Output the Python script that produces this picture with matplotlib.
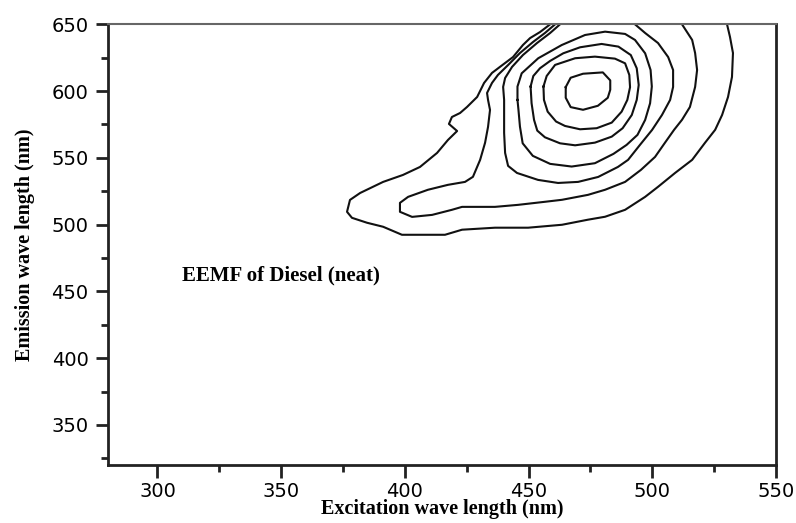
import matplotlib.pyplot as plt
from matplotlib.ticker import MultipleLocator

# Contour lines of the EEM map (excitation nm, emission nm)
# outermost contour, both ends leave through the top edge
contour_a_x = [458.7, 454.6, 450.6, 447.7, 443.7, 438.4, 435.2, 432.0, 429.2, 425.1, 422.3, 419.0,
               417.8, 421.1, 417.4, 413.0, 406.1, 399.2, 391.2, 381.9, 377.8, 376.6, 378.6, 384.7,
               391.2, 398.8, 416.2, 423.1, 436.4, 449.8, 463.5, 474.0, 480.9, 489.0, 497.1, 502.3,
               509.2, 516.1, 521.3, 525.4, 528.2, 530.6, 532.2, 532.6, 531.4, 530.2]
contour_a_y = [650.0, 644.2, 639.7, 634.5, 625.5, 618.1, 613.6, 606.1, 595.6, 588.1, 583.6, 580.6,
               575.4, 570.1, 563.4, 553.7, 543.2, 537.2, 532.0, 523.7, 518.5, 509.6, 505.1, 501.4,
               498.4, 492.4, 492.4, 496.2, 497.7, 497.7, 499.9, 503.7, 505.9, 511.1, 520.8, 528.3,
               538.7, 548.5, 561.3, 571.0, 582.1, 595.6, 610.6, 628.5, 640.5, 650.0]

# second contour with the tongue reaching to ~400 nm
contour_b_x = [460.7, 456.6, 451.8, 446.5, 441.7, 437.6, 435.2, 433.2, 433.6, 434.4, 433.6, 432.4,
               430.4, 427.5, 424.3, 417.4, 409.3, 401.3, 398.0, 398.0, 402.9, 411.0, 419.0, 423.1,
               436.4, 445.7, 456.6, 463.5, 474.0, 480.9, 489.0, 495.4, 501.1, 505.1, 508.8, 512.0,
               515.2, 517.3, 518.1, 517.3, 516.1, 512.0]
contour_b_y = [650.0, 643.5, 636.8, 628.5, 619.5, 612.1, 606.1, 598.6, 593.4, 585.9, 573.2, 561.3,
               548.5, 535.8, 532.0, 529.8, 526.1, 520.8, 516.3, 509.6, 505.8, 507.3, 511.1, 513.3,
               513.3, 514.8, 517.1, 518.6, 522.3, 526.1, 532.0, 541.0, 550.7, 561.3, 571.0, 578.5,
               588.1, 603.1, 615.8, 628.5, 638.3, 650.0]

# third contour, also open at the top
contour_c_x = [462.7, 458.7, 453.4, 447.7, 443.3, 440.5, 439.7, 440.1, 440.1, 440.5, 441.7, 445.3,
               453.8, 461.9, 470.0, 478.1, 486.1, 490.2, 495.0, 499.9, 503.9, 507.2, 508.4, 508.4,
               506.4, 502.3, 497.1, 493.0]
contour_c_y = [650.0, 643.5, 636.0, 627.0, 618.1, 609.8, 603.1, 593.4, 568.7, 553.7, 544.0, 538.7,
               533.5, 531.2, 532.0, 535.7, 543.2, 548.5, 559.7, 570.9, 582.1, 593.4, 603.1, 615.8,
               625.5, 636.0, 643.5, 650.0]

# closed rings around the peak (~474 / 600 nm)
contour_h_x = [445.5, 445.5, 447.2, 453.9, 463.4, 472.8, 480.9, 489.0, 493.0, 497.1, 499.3, 499.8,
               499.1, 497.1, 494.0, 489.6, 484.3, 476.8, 467.4, 458.7, 451.7, 447.6, 446.5, 445.9, 445.5]
contour_h_y = [593.4, 603.4, 613.3, 624.6, 634.5, 642.0, 644.5, 642.8, 638.3, 628.3, 615.8, 603.4,
               590.9, 578.4, 567.2, 559.7, 553.0, 546.0, 543.5, 545.5, 551.5, 560.9, 573.4, 585.9, 593.4]

contour_g_x = [450.8, 451.9, 454.6, 458.7, 464.0, 470.8, 479.5, 486.3, 491.3, 493.7, 494.5, 493.7,
               491.7, 488.0, 483.6, 476.8, 468.8, 462.7, 456.6, 453.5, 452.2, 451.2, 450.8]
contour_g_y = [603.4, 611.3, 617.1, 622.6, 628.3, 632.8, 635.3, 633.3, 627.0, 617.1, 604.6, 593.4,
               582.1, 572.2, 565.9, 561.4, 559.4, 560.9, 565.4, 570.4, 578.4, 590.9, 603.4]

contour_f_x = [456.0, 457.3, 460.7, 468.8, 476.8, 484.9, 489.0, 490.7, 491.0, 489.9, 487.6, 483.6,
               477.5, 470.8, 464.7, 461.1, 457.7, 456.2, 456.0]
contour_f_y = [603.4, 611.3, 619.6, 624.6, 625.8, 624.3, 620.8, 612.1, 602.9, 593.4, 584.6, 576.4,
               572.2, 571.4, 573.9, 577.2, 584.6, 593.4, 603.4]

contour_e_x = [465, 467, 472, 480, 483, 483, 482, 478, 472, 467, 465, 465]
contour_e_y = [603, 610, 613, 614, 608, 601, 595, 589, 586, 588, 595, 603]

contours = [
    (contour_a_x, contour_a_y),
    (contour_b_x, contour_b_y),
    (contour_c_x, contour_c_y),
    (contour_h_x, contour_h_y),
    (contour_g_x, contour_g_y),
    (contour_f_x, contour_f_y),
    (contour_e_x, contour_e_y),
]

fig = plt.figure(figsize=(7.96, 5.23), dpi=100)
ax = fig.add_axes([0.1357, 0.1109, 0.8392, 0.8426])

for cx, cy in contours:
    ax.plot(cx, cy, color="#111111", lw=1.5)

ax.set_xlim(280, 550)
ax.set_ylim(320, 650)

ax.xaxis.set_major_locator(MultipleLocator(50))
ax.xaxis.set_minor_locator(MultipleLocator(25))
ax.yaxis.set_major_locator(MultipleLocator(50))
ax.yaxis.set_minor_locator(MultipleLocator(25))

ax.tick_params(which="major", direction="out", length=9, width=2, color="#222222",
               labelsize=14, pad=5)
ax.tick_params(axis="x", which="major", pad=3)
ax.tick_params(which="minor", direction="out", length=5, width=2, color="#222222")
ax.tick_params(top=False, right=False, which="both")

for side in ["left", "bottom", "right"]:
    ax.spines[side].set_linewidth(2)
    ax.spines[side].set_color("#222222")
ax.spines["top"].set_linewidth(1.5)
ax.spines["top"].set_color("#666666")

ax.set_xlabel("Excitation wave length (nm)", family="Liberation Serif", fontweight="bold",
              fontsize=14.5, labelpad=-1)
ax.set_ylabel("Emission wave length (nm)", family="Liberation Serif", fontweight="bold",
              fontsize=14.5, labelpad=12)

ax.text(310, 462, "EEMF of Diesel (neat)", family="Liberation Serif", fontweight="bold",
        fontsize=15, ha="left", va="center")

fig.savefig("out.png", dpi=100)
